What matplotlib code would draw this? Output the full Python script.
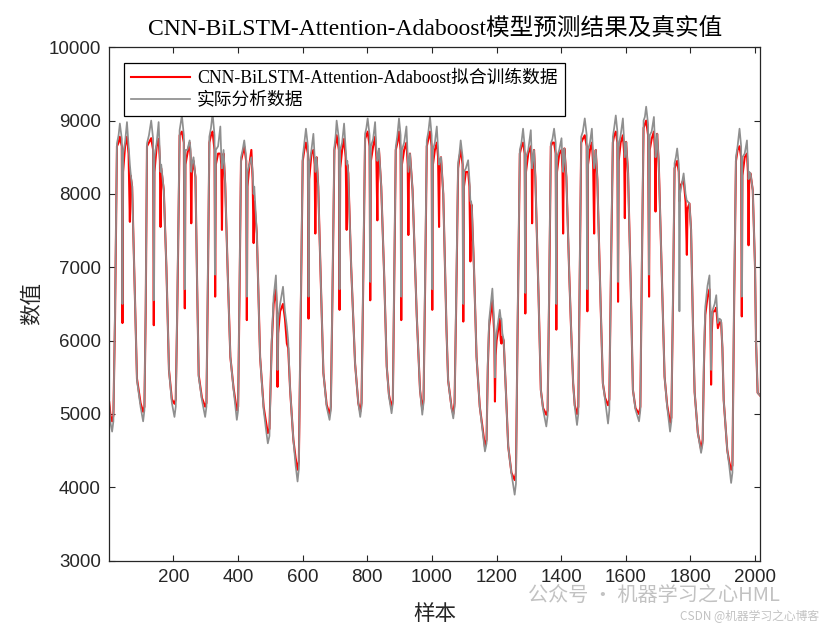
import matplotlib
matplotlib.use("Agg")
import matplotlib.pyplot as plt

day_points = [
    [(1,5120,5160),(5,4880,4980),(10,4760,4900),(14,4900,4980),(19,6400,6300),(25,8690,8650),(30,8800,8700),(34,8960,8780),(40,8750,8650),(42,6500,6240),(44,8550,8300),(50,8700,8650),(56,8980,8780),(61,8650,8550),(65,8400,7620),(67,8300,8250),(72,8100,8100),(80,6700,6700),(87,5460,5480),(98,5100,5150)],
    [(106,4900,5030),(110,5050,5100),(114,6500,6400),(118,8690,8650),(124,8800,8700),(131,9000,8760),(137,8750,8600),(139,6550,6210),(141,8500,8300),(148,8700,8650),(154,8980,8750),(158,8500,8450),(160,8300,7550),(162,8400,8350),(170,8050,8050),(178,7000,7000),(186,5600,5600),(195,5150,5200)],
    [(203,4960,5140),(207,5100,5200),(212,6600,6500),(219,8870,8800),(226,9070,8850),(232,8800,8700),(235,6700,6440),(237,8600,8400),(243,8600,8550),(250,8730,8700),(253,8600,8500),(255,8300,7600),(257,8400,8300),(262,8500,8450),(268,8230,8230),(273,6800,6800),(278,5510,5530),(288,5190,5220)],
    [(298,4960,5100),(302,5100,5150),(306,6700,6600),(311,8780,8700),(316,8900,8800),(321,9100,8850),(327,8800,8600),(329,6900,6600),(331,8600,8400),(338,8650,8550),(345,8920,8550),(348,8500,8400),(350,8350,7510),(352,8450,8350),(355,8600,8550),(360,8140,8140),(368,6900,6900),(376,5780,5780),(386,5330,5350)],
    [(396,4920,5050),(400,5050,5100),(404,6600,6500),(409,8500,8450),(414,8600,8550),(419,8730,8650),(425,8500,8450),(427,6600,6280),(429,8300,8100),(435,8400,8400),(441,8500,8600),(445,8300,8200),(448,8000,7330),(450,8100,7900),(458,7460,7460),(463,6600,6600),(468,5780,5780),(479,5060,5100),(486,4800,4900)],
    [(492,4600,4740),(497,4700,4800),(504,6000,5950),(510,6600,6500),(517,6890,6700),(520,6500,6400),(522,5600,5370),(524,6300,6100),(530,6500,6400),(539,6735,6500),(545,6400,6300),(551,6190,5960),(555,6000,5900),(561,5330,5330),(571,4650,4650),(578,4300,4400)],
    [(584,4080,4240),(588,4250,4350),(593,6200,6100),(600,8500,8450),(605,8700,8600),(610,8890,8700),(616,8650,8550),(618,6600,6300),(620,8400,8200),(627,8600,8550),(633,8820,8600),(637,8500,8400),(639,8300,7460),(641,8400,8300),(643,8500,8500),(648,8100,8100),(656,6800,6800),(664,5560,5560),(674,5100,5130)],
    [(683,4920,4990),(687,5050,5100),(692,6700,6600),(698,8640,8600),(702,8800,8700),(705,9000,8800),(712,8750,8600),(714,6700,6420),(716,8600,8350),(722,8700,8600),(728,8960,8750),(733,8600,8500),(736,8400,7510),(738,8450,8400),(741,8280,8280),(750,7000,7000),(762,5690,5690),(772,5150,5150)],
    [(778,4960,5030),(782,5100,5150),(787,6800,6700),(793,8820,8750),(797,8900,8800),(801,9030,8850),(807,8800,8650),(809,6800,6550),(811,8650,8450),(818,8750,8650),(824,8980,8780),(828,8600,8500),(831,8450,7640),(833,8500,8450),(836,8620,8600),(843,8100,8100),(852,6900,6900),(860,5650,5650),(867,5240,5260)],
    [(875,5010,5080),(879,5150,5200),(883,6800,6700),(888,8640,8600),(893,8800,8700),(898,9030,8850),(903,8800,8600),(905,6600,6280),(907,8600,8400),(914,8700,8600),(921,8920,8700),(925,8500,8400),(927,8300,7440),(929,8400,8350),(932,8550,8550),(940,8050,8050),(953,6330,6330),(963,5330,5330)],
    [(970,4990,5060),(974,5150,5200),(979,6900,6800),(984,8730,8650),(989,8850,8750),(994,9050,8850),(999,8800,8650),(1001,6700,6420),(1003,8600,8400),(1009,8700,8600),(1015,8920,8700),(1019,8600,8500),(1022,8400,7550),(1024,8450,8400),(1028,8500,8500),(1035,8000,8000),(1045,6150,6150),(1050,5460,5460),(1061,5060,5080)],
    [(1066,4940,5000),(1070,5100,5150),(1075,6600,6500),(1081,8420,8350),(1085,8550,8500),(1089,8730,8600),(1095,8500,8400),(1097,6500,6260),(1099,8300,8100),(1105,8350,8300),(1112,8460,8300),(1116,8200,8100),(1119,7900,7080),(1121,7900,7700),(1123,7850,7850),(1130,7000,7000),(1138,5780,5780),(1148,5100,5100),(1157,4750,4800)],
    [(1164,4490,4550),(1169,4600,4650),(1173,5700,5650),(1177,6280,6200),(1187,6710,6550),(1193,6200,6100),(1195,5500,5170),(1197,6000,5800),(1200,6100,6000),(1210,6420,6300),(1213,6300,6000),(1215,6300,5960),(1218,6100,6050),(1222,6010,6000),(1229,5300,5300),(1236,4560,4560),(1246,4190,4200)],
    [(1256,3900,4100),(1260,4050,4200),(1265,6200,6100),(1272,8600,8550),(1277,8700,8650),(1282,8890,8700),(1287,8650,8550),(1289,6650,6370),(1291,8500,8300),(1298,8600,8550),(1306,8870,8650),(1309,8500,8400),(1310,8350,7600),(1312,8450,8400),(1316,8600,8600),(1320,8230,8230),(1330,6600,6600),(1337,5330,5330),(1344,5060,5080)],
    [(1354,4830,4990),(1358,4980,5050),(1363,6800,6700),(1368,8690,8650),(1373,8750,8700),(1378,8890,8700),(1383,8700,8550),(1385,6500,6150),(1387,8500,8300),(1394,8600,8550),(1401,8760,8600),(1404,8450,8350),(1406,8300,7460),(1408,8500,8450),(1410,8620,8620),(1416,8230,8230),(1425,6900,6900),(1430,6240,6240),(1437,5420,5420),(1442,5100,5120)],
    [(1449,4850,5000),(1453,5000,5100),(1457,6800,6700),(1462,8780,8700),(1467,8850,8750),(1473,9030,8800),(1479,8800,8650),(1481,6700,6400),(1483,8600,8400),(1489,8700,8600),(1495,8890,8700),(1499,8500,8400),(1502,8350,7460),(1504,8450,8400),(1507,8600,8600),(1512,8190,8190),(1522,6500,6500),(1529,5420,5420),(1536,5190,5220)],
    [(1545,4870,5120),(1549,5050,5200),(1554,7000,6900),(1560,8780,8700),(1564,8900,8800),(1569,9070,8850),(1574,8850,8700),(1576,6800,6530),(1578,8650,8450),(1584,8800,8700),(1591,9030,8800),(1595,8700,8550),(1597,8500,7670),(1599,8600,8550),(1601,8710,8710),(1607,8280,8280),(1615,6800,6800),(1622,5330,5330),(1630,5060,5080)],
    [(1641,4900,5000),(1645,5050,5100),(1650,7200,7100),(1655,9000,8900),(1659,9050,8950),(1663,9190,9000),(1669,8950,8800),(1672,6900,6600),(1674,8800,8600),(1680,8850,8750),(1687,9050,8850),(1690,8700,8600),(1692,8500,7760),(1694,8600,8550),(1697,8820,8820),(1702,8420,8420),(1712,6800,6800),(1720,5510,5510),(1728,5100,5120)],
    [(1737,4760,4880),(1741,4900,4950),(1746,6600,6500),(1751,8420,8350),(1755,8500,8400),(1759,8620,8450),(1764,8400,8300),(1766,6400,7900),(1768,8000,8100),(1774,8150,8150),(1779,8280,8200),(1785,8000,7900),(1789,7900,7170),(1791,7900,7800),(1797,7870,7870),(1802,7510,7510),(1808,6200,6200),(1813,5300,5300),(1823,4740,4740)],
    [(1833,4470,4520),(1838,4600,4650),(1842,5800,5700),(1846,6460,6350),(1853,6750,6600),(1859,6890,6700),(1862,6400,6300),(1864,5600,5400),(1866,6300,6100),(1869,6420,6400),(1875,6500,6400),(1880,6620,6450),(1885,6240,6170),(1890,6300,6250),(1895,6280,6250),(1899,5900,5900),(1903,5190,5190),(1914,4510,4510),(1920,4300,4350)],
    [(1926,4060,4240),(1930,4200,4300),(1935,6500,6400),(1941,8500,8450),(1946,8650,8600),(1952,8890,8650),(1957,8650,8500),(1959,6600,6330),(1961,8500,8250),(1968,8550,8500),(1975,8730,8550),(1978,8400,8300),(1980,8200,7300),(1982,8300,8250),(1986,8280,8280),(1993,8050,8050),(2000,7000,7000),(2003,6010,6010),(2008,5290,5290),(2016,5250,5250)],
]

samples = [p[0] for day in day_points for p in day]
actual = [p[1] for day in day_points for p in day]
predicted = [p[2] for day in day_points for p in day]

title = "CNN-BiLSTM-Attention-Adaboost模型预测结果及真实值"
legend_labels = ["CNN-BiLSTM-Attention-Adaboost拟合训练数据", "实际分析数据"]
x_ticks = [200, 400, 600, 800, 1000, 1200, 1400, 1600, 1800, 2000]
y_ticks = [3000, 4000, 5000, 6000, 7000, 8000, 9000, 10000]

serif_cjk = ["Liberation Serif", "Noto Sans CJK SC"]
ax_col = "#262626"

fig = plt.figure(figsize=(8.4, 6.3), dpi=100)
ax = fig.add_axes([0.13, 0.11, 0.775, 0.815])

ax.plot(samples, predicted, color="#ff0000", lw=1.5, label=legend_labels[0])
ax.plot(samples, actual, color="#8f8f8f", lw=1.25, label=legend_labels[1])

ax.set_xlim(1, 2016)
ax.set_ylim(3000, 10000)
ax.set_xticks(x_ticks)
ax.set_yticks(y_ticks)
ax.tick_params(direction="in", top=True, right=True, length=4, width=0.8,
               labelsize=13.5, colors=ax_col, pad=6)
for lab in ax.get_xticklabels() + ax.get_yticklabels():
    lab.set_family("Liberation Sans")
for s in ax.spines.values():
    s.set_color(ax_col)
    s.set_linewidth(0.9)

ax.set_title(title, family=serif_cjk, fontsize=17, color="black", pad=9)
ax.set_xlabel("样本", family=serif_cjk, fontsize=15.5, color=ax_col, labelpad=14)
ax.set_ylabel("数值", family=serif_cjk, fontsize=15.5, color=ax_col, labelpad=4)

leg = ax.legend(loc="upper left", bbox_to_anchor=(0.023, 0.97), borderaxespad=0,
                fancybox=False, framealpha=1, edgecolor="black", handlelength=3.3,
                borderpad=0.4, labelspacing=0.3, handletextpad=0.4,
                prop={"family": serif_cjk, "size": 12.8})
leg.get_frame().set_linewidth(0.9)

# platform watermark
fig.text(0.628, 0.055, "公众号 · 机器学习之心HML", family=["Noto Sans CJK SC"],
         fontsize=14.5, color="#9a9a9a", alpha=0.6, va="center")
fig.text(0.81, 0.022, "CSDN @机器学习之心博客", family=["Noto Sans CJK SC", "DejaVu Sans"],
         fontsize=8.5, color="#9a9a9a", alpha=0.6, va="center")

fig.savefig("out.png", dpi=100)
